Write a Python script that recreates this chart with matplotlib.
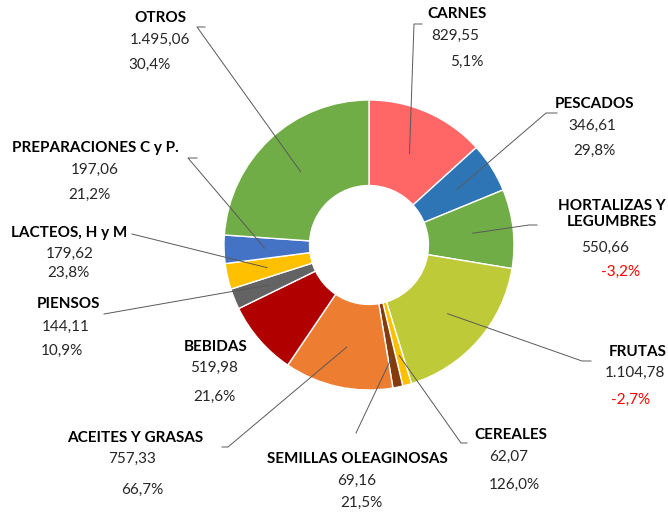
import numpy as np
import matplotlib
matplotlib.use('Agg')
import matplotlib.pyplot as plt

plt.rcParams['font.family'] = ['Lato', 'DejaVu Sans']

# data (clockwise from 12 o'clock)
names = ['CARNES', 'PESCADOS', 'HORTALIZAS Y\nLEGUMBRES', 'FRUTAS', 'CEREALES',
         'SEMILLAS OLEAGINOSAS', 'ACEITES Y GRASAS', 'BEBIDAS', 'PIENSOS',
         'LACTEOS, H y M', 'PREPARACIONES C y P.', 'OTROS']
values = [829.55, 346.61, 550.66, 1104.78, 62.07, 69.16, 757.33, 519.98,
          144.11, 179.62, 197.06, 1495.06]
value_labels = ['829,55', '346,61', '550,66', '1.104,78', '62,07', '69,16',
                '757,33', '519,98', '144,11', '179,62', '197,06', '1.495,06']
changes = ['5,1%', '29,8%', '-3,2%', '-2,7%', '126,0%', '21,5%', '66,7%',
           '21,6%', '10,9%', '23,8%', '21,2%', '30,4%']
colors = ['#FF6666', '#2E75B6', '#70AD47', '#BFCA38', '#FFC000', '#843C0C',
          '#ED7D31', '#B00000', '#636363', '#FFC000', '#4472C4', '#70AD47']

W, H = 668, 515
cx, cy, R = 369, H - 245, 145
ring = 0.59

# label layout in pixels from top-left: name, value, change (x, y)
name_pos = [(457, 14), (594, 104), (612, 214), (638, 352), (511, 435),
            (357, 459), (135, 438), (216, 347), (68, 304), (69, 233),
            (95, 148), (160, 18)]
value_pos = [(455, 36), (592, 126), (605, 248), (635, 373), (509, 457),
             (357, 481), (132, 459), (214, 368), (66, 327), (70, 254),
             (95, 170), (160, 40)]
pct_pos = [(467, 62), (594, 151), (621, 272), (631, 400), (514, 485),
           (361, 503), (142, 490), (214, 397), (62, 351), (68, 273),
           (89, 195), (149, 65)]
# leader elbow and end (None = no leader)
leaders = [((414, 24), (422, 24)), ((546, 113), (557, 113)), ((529, 225), (537, 225)),
           ((582, 361), (591, 361)), ((461, 443), (467, 443)), ((356, 433), None),
           ((228, 447), (222, 447)), None, ((104, 314), None),
           ((132, 234), None), ((188, 158), (197, 158)), ((197, 27), (205, 27))]
lead_r = [0.69, 0.72, 0.72, 0.72, 0.79, 0.79, 0.72, 0.72, 0.74, 0.72, 0.72, 0.69]

fig = plt.figure(figsize=(6.68, 5.15), dpi=100)
ax = fig.add_axes([0, 0, 1, 1])

wedges, _ = ax.pie(values, colors=colors, startangle=90, counterclock=False,
                   center=(cx, cy), radius=R, frame=True,
                   wedgeprops=dict(width=R * ring, edgecolor='white', linewidth=1))
ax.set_xlim(0, W)
ax.set_ylim(0, H)
ax.axis('off')

for i, w in enumerate(wedges):
    mid = np.deg2rad((w.theta1 + w.theta2) / 2)
    sx = cx + R * lead_r[i] * np.cos(mid)
    sy = cy + R * lead_r[i] * np.sin(mid)
    if leaders[i] is not None:
        (ex, ey), end = leaders[i]
        xs, ys = [sx, ex], [sy, H - ey]
        if end is not None:
            xs.append(end[0])
            ys.append(H - end[1])
        ax.plot(xs, ys, color='#595959', lw=0.7)

    nx, ny = name_pos[i]
    ax.text(nx, H - ny, names[i], ha='center', va='center', fontsize=11,
            fontweight='bold', color='black', linespacing=1.25)
    vx, vy = value_pos[i]
    ax.text(vx, H - vy, value_labels[i], ha='center', va='center', fontsize=11,
            color='#262626')
    px_, py_ = pct_pos[i]
    col = 'red' if changes[i].startswith('-') else '#262626'
    ax.text(px_, H - py_, changes[i], ha='center', va='center', fontsize=11,
            color=col)

fig.savefig('out.png', dpi=100)
